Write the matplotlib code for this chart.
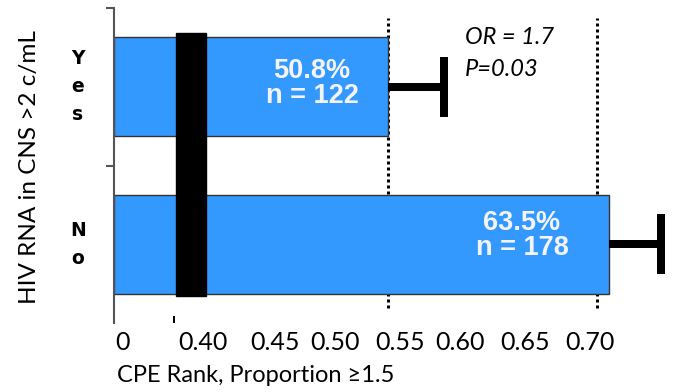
import matplotlib
matplotlib.use("Agg")
import matplotlib.pyplot as plt
import matplotlib.transforms as mtransforms

# ---- data ----
categories = ["No", "Yes"]
proportions = [0.635, 0.508]
n_values = [178, 122]
err_upper = [0.030, 0.032]
ref_lines = [0.508, 0.628]
x_tick_labels = ["0", "0.40", "0.45", "0.50", "0.55", "0.60", "0.65", "0.70"]
stat_text = ["OR = 1.7", "P=0.03"]

# ---- layout ----
W, H, DPI = 673, 392, 100
ax_left_px, ax_right_px, ax_top_px, ax_bot_px = 114, 670, 8, 323
x_min, px_per_unit = 0.3505, 1740.0
x_max = x_min + (ax_right_px - ax_left_px) / px_per_unit
tick_label_fracs = [0.016, 0.160, 0.290, 0.398, 0.514, 0.622, 0.739, 0.856]
label_offsets_px = [(-87, 9), (-76, 3)]
break_span = (0.386, 0.4035)
bar_color = "#3399FF"
px2pt = 72.0 / DPI

fig = plt.figure(figsize=(W / DPI, H / DPI), dpi=DPI)
ax = fig.add_axes([ax_left_px / W, 1 - ax_bot_px / H,
                   (ax_right_px - ax_left_px) / W, (ax_bot_px - ax_top_px) / H])
ax.set_xlim(x_min, x_max)
ax.set_ylim(-0.5, 1.5)

ypos = list(range(len(categories)))

# dotted reference lines
for xv in ref_lines:
    ax.axvline(xv, ymin=0.048, ymax=0.968, color="black", lw=3 * px2pt,
               linestyle=(0, (1, 1)), zorder=1)

# bars start at the left edge of the (broken) axis
ax.barh(ypos, [p - x_min for p in proportions], left=x_min, height=0.63,
        color=bar_color, edgecolor="#333333", linewidth=1.0, zorder=2)

# one-sided error bars: whisker plus a single cap at the upper end
ends = [p + e for p, e in zip(proportions, err_upper)]
ax.hlines(ypos, proportions, ends, color="black", lw=8 * px2pt, zorder=4,
          clip_on=False)
ax.plot(ends, ypos, linestyle="none", marker="|", markersize=60 * px2pt,
        markeredgewidth=8 * px2pt, color="black", zorder=4, clip_on=False)

# axis-break marker
ax.axvspan(break_span[0], break_span[1], ymin=0.086, ymax=0.921,
           color="black", zorder=3)

# bar value labels
for y, p, n, (dx, dy) in zip(ypos, proportions, n_values, label_offsets_px):
    ax.annotate(f"{p * 100:.1f}%\nn = {n}", xy=(p, y),
                xytext=(dx * px2pt, dy * px2pt), textcoords="offset points",
                ha="center", va="center", color="#F4F4F4", fontsize=19.5,
                fontweight="bold", family="Liberation Sans", linespacing=0.95,
                zorder=5)

# spines and ticks
for s in ["top", "right", "bottom"]:
    ax.spines[s].set_visible(False)
ax.spines["left"].set_color("#555555")
ax.spines["left"].set_linewidth(1.5)
ax.set_yticks([0.5, 1.5])
ax.set_yticklabels([])
ax.tick_params(axis="y", direction="out", length=8 * px2pt, width=1.5,
               color="#555555")
ax.set_xticks([break_span[0] - 0.001])
ax.set_xticklabels([])
ax.tick_params(axis="x", direction="in", length=7 * px2pt, width=2 * px2pt,
               color="black")

# stacked category labels
ytrans = mtransforms.blended_transform_factory(ax.transAxes, ax.transData)
for y, c in zip(ypos, categories):
    ax.text(-0.065, y, "\n".join(c), transform=ytrans, ha="center",
            va="center", fontsize=13.5, fontweight="heavy",
            family="DejaVu Sans", linespacing=1.6)

# x tick labels
for f, t in zip(tick_label_fracs, x_tick_labels):
    ax.text(f, -(343 - ax_bot_px) / (ax_bot_px - ax_top_px), t,
            transform=ax.transAxes, ha="center", va="center", fontsize=18,
            family=["Lato", "DejaVu Sans"])

# axis titles
fig.text(117 / W, 1 - 375 / H, "CPE Rank, Proportion \u22651.5", ha="left",
         va="center", fontsize=17, family=["Lato", "DejaVu Sans"])
fig.text(30 / W, 1 - 167 / H, "HIV RNA in CNS >2 c/mL", rotation=90,
         ha="center", va="center", fontsize=17.5, family=["Lato", "DejaVu Sans"])

# statistics annotation
for i, t in enumerate(stat_text):
    fig.text(465 / W, 1 - (37 + 33 * i) / H, t, ha="left", va="center",
             fontsize=17, style="italic", family=["Lato", "DejaVu Sans"])

fig.savefig("out.png", dpi=DPI)
